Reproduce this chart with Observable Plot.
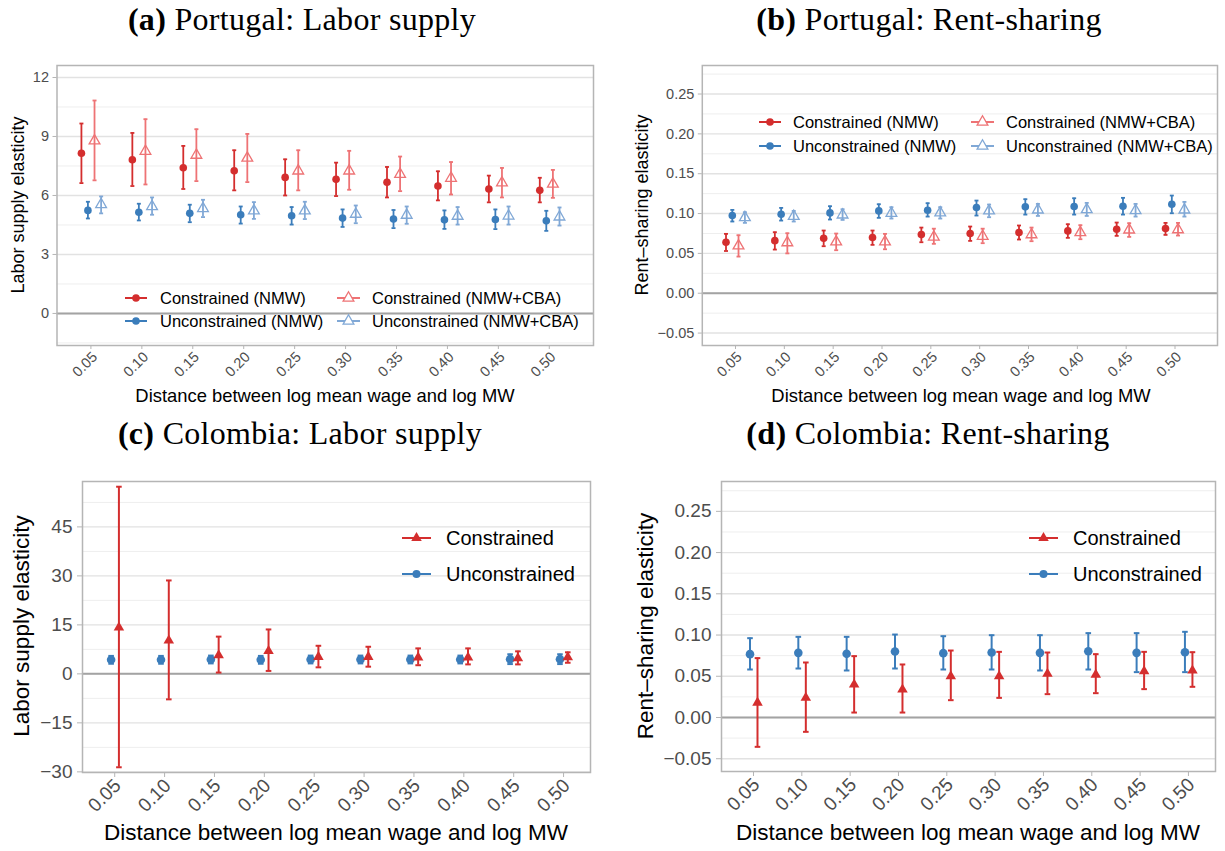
<!DOCTYPE html>
<html>
<head>
<meta charset="utf-8">
<script src="https://cdn.jsdelivr.net/npm/d3@7"></script>
<script src="https://cdn.jsdelivr.net/npm/@observablehq/plot@0.6"></script>
<style>
  body { margin: 0; background: #fff; }
  #fig { position: relative; width: 1225px; height: 851px; overflow: hidden; font-family: "Liberation Sans", Arial, sans-serif; color: #000; }
  .panel { position: absolute; }
  .title { position: absolute; font-family: "Liberation Serif", "Times New Roman", serif; font-size: 32px; line-height: 32px; letter-spacing: 0.3px; white-space: nowrap; transform: translateX(-50%); }
  .ytitle { position: absolute; white-space: nowrap; transform: translate(-50%, -50%) rotate(-90deg); }
  .xtitle { position: absolute; white-space: nowrap; transform: translate(-50%, -50%); }
  .lg { position: absolute; display: flex; align-items: center; white-space: nowrap; }
  .lg svg { display: block; }
</style>
</head>
<body>
<div id="fig"></div>
<script>
// Distance between log mean wage and log minimum wage (x categories)
const xCats = [0.05, 0.10, 0.15, 0.20, 0.25, 0.30, 0.35, 0.40, 0.45, 0.50];

// Portugal: labor supply elasticity
const ptLsConNmw   = [8.15, 7.82, 7.41, 7.26, 6.92, 6.82, 6.67, 6.48, 6.33, 6.26];
const ptLsConNmwLo = [6.63, 6.48, 6.33, 6.26, 6.00, 5.97, 5.90, 5.75, 5.65, 5.65];
const ptLsConNmwHi = [9.66, 9.18, 8.52, 8.30, 7.84, 7.67, 7.45, 7.23, 7.01, 6.90];
const ptLsConCba   = [8.78, 8.25, 8.05, 7.90, 7.25, 7.25, 7.08, 6.88, 6.65, 6.58];
const ptLsConCbaLo = [6.77, 6.56, 6.73, 6.68, 6.26, 6.29, 6.22, 6.05, 5.90, 5.88];
const ptLsConCbaHi = [10.83, 9.88, 9.37, 9.13, 8.30, 8.27, 7.98, 7.70, 7.40, 7.30];
const ptLsUncNmw   = [5.24, 5.15, 5.09, 5.02, 4.97, 4.85, 4.80, 4.76, 4.78, 4.71];
const ptLsUncNmwLo = [4.83, 4.73, 4.64, 4.57, 4.52, 4.40, 4.34, 4.30, 4.29, 4.20];
const ptLsUncNmwHi = [5.68, 5.58, 5.53, 5.44, 5.41, 5.29, 5.26, 5.24, 5.29, 5.22];
const ptLsUncCba   = [5.54, 5.44, 5.34, 5.22, 5.22, 5.05, 5.00, 4.95, 4.96, 4.91];
const ptLsUncCbaLo = [5.09, 5.02, 4.90, 4.81, 4.80, 4.59, 4.56, 4.52, 4.52, 4.47];
const ptLsUncCbaHi = [5.95, 5.90, 5.78, 5.66, 5.68, 5.49, 5.44, 5.41, 5.44, 5.39];
const ptLsTicks = [0, 3, 6, 9, 12];
const ptLsMinor = [-1.5, 1.5, 4.5, 7.5, 10.5];

// Portugal: rent-sharing elasticity
const ptRsConNmw   = [0.0640, 0.0660, 0.0690, 0.0700, 0.0736, 0.0749, 0.0762, 0.0782, 0.0803, 0.0812];
const ptRsConNmwLo = [0.0530, 0.0548, 0.0590, 0.0607, 0.0640, 0.0657, 0.0674, 0.0695, 0.0720, 0.0732];
const ptRsConNmwHi = [0.0745, 0.0766, 0.0787, 0.0787, 0.0824, 0.0837, 0.0850, 0.0866, 0.0887, 0.0883];
const ptRsConCba   = [0.0595, 0.0635, 0.0645, 0.0645, 0.0706, 0.0715, 0.0735, 0.0761, 0.0795, 0.0798];
const ptRsConCbaLo = [0.0460, 0.0500, 0.0540, 0.0552, 0.0620, 0.0628, 0.0653, 0.0678, 0.0707, 0.0724];
const ptRsConCbaHi = [0.0728, 0.0753, 0.0749, 0.0745, 0.0810, 0.0810, 0.0824, 0.0854, 0.0879, 0.0883];
const ptRsUncNmw   = [0.0975, 0.0992, 0.1008, 0.1033, 0.1042, 0.1075, 0.1084, 0.1088, 0.1092, 0.1117];
const ptRsUncNmwLo = [0.0900, 0.0912, 0.0925, 0.0946, 0.0962, 0.0975, 0.0987, 0.0987, 0.0987, 0.1004];
const ptRsUncNmwHi = [0.1046, 0.1071, 0.1092, 0.1117, 0.1130, 0.1163, 0.1180, 0.1192, 0.1197, 0.1226];
const ptRsUncCba   = [0.0950, 0.0966, 0.0983, 0.1004, 0.1009, 0.1034, 0.1046, 0.1050, 0.1038, 0.1046];
const ptRsUncCbaLo = [0.0883, 0.0900, 0.0920, 0.0937, 0.0937, 0.0954, 0.0970, 0.0970, 0.0962, 0.0962];
const ptRsUncCbaHi = [0.1017, 0.1033, 0.1054, 0.1080, 0.1080, 0.1113, 0.1121, 0.1134, 0.1121, 0.1146];
const rsTicks = [-0.05, 0, 0.05, 0.10, 0.15, 0.20, 0.25];
const rsMinor = [-0.025, 0.025, 0.075, 0.125, 0.175, 0.225, 0.275];

// Colombia: labor supply elasticity
const coLsCon   = [14.2, 10.2, 5.7, 7.0, 5.2, 5.2, 5.0, 5.0, 4.8, 5.1];
const coLsConLo = [-28.6, -7.8, 0.4, 0.9, 2.0, 2.2, 2.65, 2.9, 2.9, 3.4];
const coLsConHi = [57.3, 28.6, 11.4, 13.6, 8.6, 8.3, 7.8, 7.8, 6.9, 6.6];
const coLsUnc   = [4.3, 4.3, 4.4, 4.3, 4.4, 4.4, 4.4, 4.4, 4.5, 4.5];
const coLsUncLo = [3.1, 3.1, 3.2, 3.1, 3.2, 3.2, 3.2, 3.2, 3.0, 3.0];
const coLsUncHi = [5.5, 5.5, 5.6, 5.5, 5.6, 5.6, 5.6, 5.6, 6.0, 6.0];
const coLsTicks = [-30, -15, 0, 15, 30, 45];
const coLsMinor = [-22.5, -7.5, 7.5, 22.5, 37.5, 52.5];

// Colombia: rent-sharing elasticity
const coRsCon   = [0.0180, 0.0240, 0.0400, 0.0340, 0.0500, 0.0500, 0.0530, 0.0520, 0.0560, 0.0570];
const coRsConLo = [-0.0356, -0.0174, 0.0060, 0.0060, 0.0210, 0.0238, 0.0283, 0.0295, 0.0344, 0.0372];
const coRsConHi = [0.0720, 0.0667, 0.0744, 0.0643, 0.0812, 0.0796, 0.0788, 0.0768, 0.0796, 0.0792];
const coRsUnc   = [0.0768, 0.0784, 0.0772, 0.0800, 0.0780, 0.0788, 0.0784, 0.0804, 0.0784, 0.0792];
const coRsUncLo = [0.0582, 0.0594, 0.0570, 0.0594, 0.0582, 0.0582, 0.0570, 0.0582, 0.0550, 0.0550];
const coRsUncHi = [0.0962, 0.0978, 0.0978, 0.1006, 0.0986, 0.0998, 0.0998, 0.1023, 0.1023, 0.1039];

// Legend labels
const ptLabels = ["Constrained (NMW)", "Unconstrained (NMW)", "Constrained (NMW+CBA)", "Unconstrained (NMW+CBA)"];
const coLabels = ["Constrained", "Unconstrained"];

// Colours
const red = "#D42E2E", blue = "#3B7DBB", lightRed = "#EE7375", lightBlue = "#80A8D6";
const gridMajor = "#e2e2e2", gridMinor = "#eeeeee", frameGrey = "#b5b5b5", zeroGrey = "#a3a3a3", tickText = "#4d4d4d";

const fig = document.getElementById("fig");

// horizontal cap drawn as a dot symbol so it follows the dodge offset
const capSymbol = { draw(ctx, size) { const w = Math.sqrt(size / Math.PI); ctx.moveTo(-w, 0); ctx.lineTo(w, 0); } };

function toRows(est, lo, hi) {
  return xCats.map((x, i) => ({ x, est: est[i], lo: lo[i], hi: hi[i] }));
}

function seriesMarks(s, sty) {
  const data = toRows(s.est, s.lo, s.hi);
  const isCircle = s.symbol === "circle";
  return [
    Plot.ruleX(data, { x: "x", y1: "lo", y2: "hi", dx: s.dx, stroke: s.color, strokeWidth: sty.errW }),
    Plot.dot(data, { x: "x", y: "lo", dx: s.dx, symbol: capSymbol, r: sty.capR, stroke: s.color, strokeWidth: sty.errW }),
    Plot.dot(data, { x: "x", y: "hi", dx: s.dx, symbol: capSymbol, r: sty.capR, stroke: s.color, strokeWidth: sty.errW }),
    Plot.dot(data, {
      x: "x", y: "est", dx: s.dx, symbol: s.symbol,
      r: isCircle ? sty.dotR : sty.triR,
      fill: s.filled ? s.color : "none",
      stroke: s.filled ? "none" : s.color,
      strokeWidth: s.filled ? 0 : 1.3
    })
  ];
}

function drawPanel(cfg) {
  const sty = cfg.style;
  const chart = Plot.plot({
    width: cfg.width, height: cfg.height,
    marginLeft: cfg.ml, marginRight: cfg.mr, marginTop: cfg.mt, marginBottom: cfg.mb,
    x: { domain: cfg.xDomain },
    y: { domain: cfg.yDomain },
    style: { fontFamily: "'Liberation Sans', Arial, sans-serif", background: "transparent", overflow: "visible" },
    marks: [
      Plot.ruleY(cfg.yMinor, { stroke: gridMinor, strokeWidth: 1 }),
      Plot.ruleY(cfg.yTicks, { stroke: gridMajor, strokeWidth: 1.4 }),
      Plot.ruleY([0], { stroke: zeroGrey, strokeWidth: 2 }),
      Plot.axisY(cfg.yTicks, {
        tickSize: sty.tickSize, tickPadding: sty.tickPad, stroke: frameGrey, fill: tickText,
        fontSize: sty.tickFont, tickFormat: cfg.yFormat, label: null
      }),
      // x tick marks
      Plot.axisX(xCats, {
        tickSize: sty.tickSize, stroke: frameGrey, tickFormat: () => "", label: null
      }),
      // rotated x tick labels
      Plot.axisX(xCats, {
        tickSize: 0, tickPadding: sty.xTickPad, tickRotate: -45, dx: sty.xTickDx, fill: tickText,
        fontSize: sty.tickFont, tickFormat: d3.format(".2f"), label: null
      }),
      ...cfg.series.flatMap(s => seriesMarks(s, sty)),
      Plot.frame({ stroke: frameGrey, strokeWidth: 1.5 })
    ]
  });
  const wrap = document.createElement("div");
  wrap.className = "panel";
  wrap.style.left = cfg.left + "px";
  wrap.style.top = cfg.top + "px";
  wrap.appendChild(chart);
  fig.appendChild(wrap);
}

function addText(cls, html, x, y, fontSize) {
  const d = document.createElement("div");
  d.className = cls;
  d.innerHTML = html;
  d.style.left = x + "px";
  d.style.top = y + "px";
  if (fontSize) d.style.fontSize = fontSize + "px";
  fig.appendChild(d);
}

function addLegendItem(label, color, symbol, filled, keyX, keyW, cy, textX, fontSize, symR) {
  const h = 24;
  const d = document.createElement("div");
  d.className = "lg";
  d.style.left = keyX + "px";
  d.style.top = (cy - h / 2) + "px";
  d.style.height = h + "px";
  d.style.fontSize = fontSize + "px";
  const svg = d3.create("svg").attr("width", textX - keyX).attr("height", h);
  svg.append("line").attr("x1", 0).attr("x2", keyW).attr("y1", h / 2).attr("y2", h / 2)
    .attr("stroke", color).attr("stroke-width", 2);
  const type = symbol === "circle" ? d3.symbolCircle : d3.symbolTriangle;
  svg.append("path")
    .attr("d", d3.symbol(type, Math.PI * symR * symR)())
    .attr("transform", `translate(${keyW / 2},${h / 2})`)
    .attr("fill", filled ? color : "#fff")
    .attr("stroke", filled ? "none" : color)
    .attr("stroke-width", 1.3);
  d.appendChild(svg.node());
  const t = document.createElement("span");
  t.textContent = label;
  d.appendChild(t);
  fig.appendChild(d);
}

const smallStyle = { errW: 1.8, capR: 2, dotR: 3.8, triR: 4.0, tickSize: 4, tickPad: 4, xTickPad: 9, xTickDx: 4, tickFont: 14.5 };
const bigStyle = { errW: 2.0, capR: 2.8, dotR: 4.3, triR: 3.9, tickSize: 5, tickPad: 5, xTickPad: 10, xTickDx: 3, tickFont: 19 };

// (a) Portugal: labor supply
drawPanel({
  left: 0, top: 50, width: 600, height: 360, ml: 56.5, mr: 7, mt: 15, mb: 65,
  xDomain: [0.0167, 0.5434], yDomain: [-1.63, 12.61],
  yTicks: ptLsTicks, yMinor: ptLsMinor, yFormat: d3.format("d"), style: smallStyle,
  series: [
    { est: ptLsConNmw, lo: ptLsConNmwLo, hi: ptLsConNmwHi, color: red, symbol: "circle", filled: true, dx: -9.5 },
    { est: ptLsUncNmw, lo: ptLsUncNmwLo, hi: ptLsUncNmwHi, color: blue, symbol: "circle", filled: true, dx: -3.0 },
    { est: ptLsConCba, lo: ptLsConCbaLo, hi: ptLsConCbaHi, color: lightRed, symbol: "triangle", filled: false, dx: 3.6 },
    { est: ptLsUncCba, lo: ptLsUncCbaLo, hi: ptLsUncCbaHi, color: lightBlue, symbol: "triangle", filled: false, dx: 10.2 }
  ]
});

// (b) Portugal: rent-sharing
drawPanel({
  left: 610, top: 50, width: 615, height: 360, ml: 91.8, mr: 8, mt: 15, mb: 65,
  xDomain: [0.016, 0.5435], yDomain: [-0.0656, 0.2858],
  yTicks: rsTicks, yMinor: rsMinor, yFormat: d3.format(".2f"), style: smallStyle,
  series: [
    { est: ptRsConNmw, lo: ptRsConNmwLo, hi: ptRsConNmwHi, color: red, symbol: "circle", filled: true, dx: -9.5 },
    { est: ptRsUncNmw, lo: ptRsUncNmwLo, hi: ptRsUncNmwHi, color: blue, symbol: "circle", filled: true, dx: -3.2 },
    { est: ptRsConCba, lo: ptRsConCbaLo, hi: ptRsConCbaHi, color: lightRed, symbol: "triangle", filled: false, dx: 3.0 },
    { est: ptRsUncCba, lo: ptRsUncCbaLo, hi: ptRsUncCbaHi, color: lightBlue, symbol: "triangle", filled: false, dx: 9.4 }
  ]
});

// (c) Colombia: labor supply
drawPanel({
  left: 0, top: 470, width: 600, height: 381, ml: 82, mr: 10, mt: 11, mb: 79,
  xDomain: [0.0177, 0.527], yDomain: [-30.2, 58.9],
  yTicks: coLsTicks, yMinor: coLsMinor, yFormat: d3.format("d"), style: bigStyle,
  series: [
    { est: coLsUnc, lo: coLsUncLo, hi: coLsUncHi, color: blue, symbol: "circle", filled: true, dx: -3.6 },
    { est: coLsCon, lo: coLsConLo, hi: coLsConHi, color: red, symbol: "triangle", filled: true, dx: 4.2 }
  ]
});

// (d) Colombia: rent-sharing
drawPanel({
  left: 610, top: 470, width: 615, height: 381, ml: 111, mr: 10, mt: 11, mb: 80,
  xDomain: [0.0169, 0.528], yDomain: [-0.0655, 0.2862],
  yTicks: rsTicks, yMinor: rsMinor, yFormat: d3.format(".2f"), style: bigStyle,
  series: [
    { est: coRsUnc, lo: coRsUncLo, hi: coRsUncHi, color: blue, symbol: "circle", filled: true, dx: -3.5 },
    { est: coRsCon, lo: coRsConLo, hi: coRsConHi, color: red, symbol: "triangle", filled: true, dx: 4.0 }
  ]
});

// Panel titles
addText("title", "<b>(a)</b> Portugal: Labor supply", 302, 3);
addText("title", "<b>(b)</b> Portugal: Rent-sharing", 929, 3);
addText("title", "<b>(c)</b> Colombia: Labor supply", 300, 417);
addText("title", "<b>(d)</b> Colombia: Rent-sharing", 928, 417);

// Axis titles
const xTitle = "Distance between log mean wage and log MW";
addText("xtitle", xTitle, 325, 396, 18.4);
addText("xtitle", xTitle, 961, 396, 18.4);
addText("xtitle", xTitle, 336, 833, 22.5);
addText("xtitle", xTitle, 968, 833, 22.5);
addText("ytitle", "Labor supply elasticity", 17.5, 205, 18);
addText("ytitle", "Rent\u2013sharing elasticity", 641.5, 205, 18);
addText("ytitle", "Labor supply elasticity", 22, 626, 22.5);
addText("ytitle", "Rent\u2013sharing elasticity", 646, 626, 22.5);

// Legends
// (a)
addLegendItem(ptLabels[0], red, "circle", true, 125, 22, 298, 160, 16.5, 3.8);
addLegendItem(ptLabels[1], blue, "circle", true, 125, 22, 321, 160, 16.5, 3.8);
addLegendItem(ptLabels[2], lightRed, "triangle", false, 337, 23, 298, 372, 16.5, 4.0);
addLegendItem(ptLabels[3], lightBlue, "triangle", false, 337, 23, 321, 372, 16.5, 4.0);
// (b)
addLegendItem(ptLabels[0], red, "circle", true, 759, 22, 122, 793, 16.5, 3.8);
addLegendItem(ptLabels[1], blue, "circle", true, 759, 22, 146, 793, 16.5, 3.8);
addLegendItem(ptLabels[2], lightRed, "triangle", false, 971, 23, 122, 1006, 16.5, 4.0);
addLegendItem(ptLabels[3], lightBlue, "triangle", false, 971, 23, 146, 1006, 16.5, 4.0);
// (c)
addLegendItem(coLabels[0], red, "triangle", true, 402, 29, 538, 446, 20, 3.9);
addLegendItem(coLabels[1], blue, "circle", true, 402, 29, 574, 446, 20, 4.0);
// (d)
addLegendItem(coLabels[0], red, "triangle", true, 1029, 29, 538, 1073, 20, 3.9);
addLegendItem(coLabels[1], blue, "circle", true, 1029, 29, 574, 1073, 20, 4.0);
</script>
</body>
</html>
